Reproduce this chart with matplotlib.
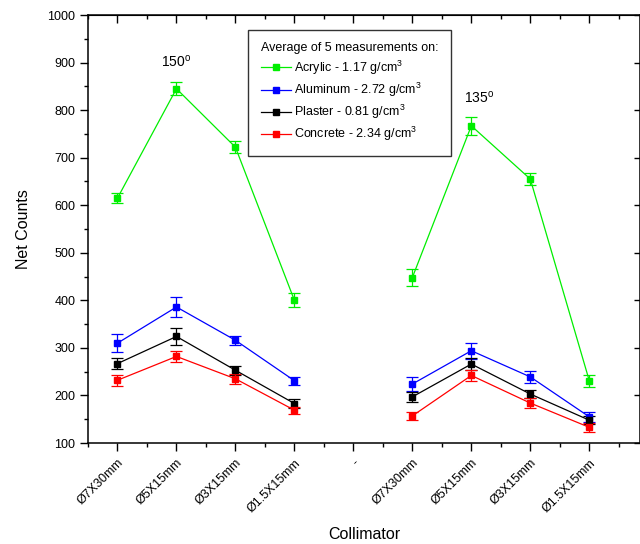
import matplotlib
matplotlib.use("Agg")
import matplotlib.pyplot as plt
from matplotlib.ticker import MultipleLocator
from matplotlib.lines import Line2D

plt.rcParams['font.family'] = ['Liberation Sans', 'DejaVu Sans']
plt.rcParams['mathtext.fontset'] = 'custom'
plt.rcParams['mathtext.rm'] = 'Liberation Sans'
plt.rcParams['mathtext.it'] = 'Liberation Sans:italic'
plt.rcParams['mathtext.bf'] = 'Liberation Sans:bold'

categories = ["Ø7X30mm", "Ø5X15mm", "Ø3X15mm", "Ø1.5X15mm", "-",
              "Ø7X30mm", "Ø5X15mm", "Ø3X15mm", "Ø1.5X15mm"]
group_150 = [1, 2, 3, 4]
group_135 = [6, 7, 8, 9]

acrylic_150 = [615, 845, 722, 400]
acrylic_135 = [448, 767, 655, 231]
acrylic_err_150 = [11, 14, 12, 15]
acrylic_err_135 = [17, 19, 13, 13]

aluminum_150 = [310, 386, 316, 231]
aluminum_135 = [224, 294, 239, 155]
aluminum_err_150 = [19, 21, 10, 8]
aluminum_err_135 = [15, 17, 12, 10]

plaster_150 = [267, 324, 253, 183]
plaster_135 = [197, 266, 203, 148]
plaster_err_150 = [11, 17, 9, 9]
plaster_err_135 = [11, 12, 8, 8]

concrete_150 = [232, 282, 235, 169]
concrete_135 = [157, 242, 184, 133]
concrete_err_150 = [12, 11, 10, 7]
concrete_err_135 = [9, 12, 10, 9]

series = [
    ("Acrylic - 1.17 g/cm$^{3}$", "#00ee00", acrylic_150, acrylic_err_150, acrylic_135, acrylic_err_135),
    ("Aluminum - 2.72 g/cm$^{3}$", "#0000ff", aluminum_150, aluminum_err_150, aluminum_135, aluminum_err_135),
    ("Plaster - 0.81 g/cm$^{3}$", "#000000", plaster_150, plaster_err_150, plaster_135, plaster_err_135),
    ("Concrete - 2.34 g/cm$^{3}$", "#ff0000", concrete_150, concrete_err_150, concrete_135, concrete_err_135),
]

fig = plt.figure(figsize=(6.4, 5.44), dpi=100)
ax = fig.add_axes([88/640, 101/544, 552/640, 428/544])

handles = []
for label, color, y1, e1, y2, e2 in series:
    ax.errorbar(group_150, y1, yerr=e1, color=color, lw=0.9, marker='s', ms=5,
                capsize=4, elinewidth=0.9, capthick=0.9)
    ax.errorbar(group_135, y2, yerr=e2, color=color, lw=0.9, marker='s', ms=5,
                capsize=4, elinewidth=0.9, capthick=0.9)
    handles.append(Line2D([], [], color=color, lw=0.9, marker='s', ms=5, label=label))

ax.set_xlim(0.5, 9.86)
ax.set_ylim(100, 1000)

ax.set_xticks(range(1, len(categories) + 1))
ax.set_xticklabels(categories, rotation=45, ha='right', rotation_mode='anchor', fontsize=9)
ax.xaxis.set_minor_locator(MultipleLocator(0.5))
ax.yaxis.set_major_locator(MultipleLocator(100))
ax.yaxis.set_minor_locator(MultipleLocator(50))
ax.tick_params(axis='both', which='major', direction='out', length=6, width=1, labelsize=9, pad=3)
ax.tick_params(axis='both', which='minor', direction='out', length=3, width=1)
ax.tick_params(axis='x', which='major', pad=4)

for sp in ax.spines.values():
    sp.set_linewidth(1.1)

top = ax.secondary_xaxis('top')
top.set_xticks(range(1, len(categories) + 1))
top.xaxis.set_minor_locator(MultipleLocator(0.5))
top.tick_params(axis='x', which='major', direction='in', length=6, width=1, labeltop=False)
top.tick_params(axis='x', which='minor', direction='in', length=3, width=1)
top.set_xticklabels([])

right = ax.secondary_yaxis('right')
right.yaxis.set_major_locator(MultipleLocator(100))
right.tick_params(axis='y', which='major', direction='in', length=4, width=1, labelright=False)
right.tick_params(axis='y', which='minor', length=0)
right.set_yticklabels([])

ax.set_ylabel("Net Counts", fontsize=11.5, labelpad=12)
ax.set_xlabel("Collimator", fontsize=11.5, labelpad=9)

ax.text(2.0, 903, "150$^{\\mathrm{o}}$", ha='center', va='center', fontsize=10)
ax.text(7.14, 827, "135$^{\\mathrm{o}}$", ha='center', va='center', fontsize=10)

leg = ax.legend(handles=handles, title="Average of 5 measurements on:", loc='upper left',
                bbox_to_anchor=(0.29, 0.965), borderaxespad=0, fontsize=9, title_fontsize=9,
                alignment='left', frameon=True, fancybox=False, edgecolor='black',
                handlelength=2.4, handletextpad=0.3, labelspacing=0.32, borderpad=1.0,
                numpoints=1)
leg.get_frame().set_linewidth(1.0)

fig.savefig("out.png", dpi=100)
